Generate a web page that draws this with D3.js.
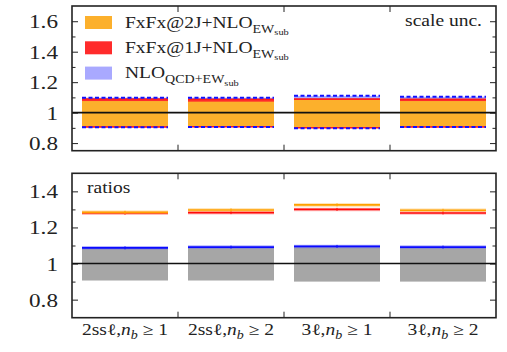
<!DOCTYPE html>
<html lang="en">
<head>
<meta charset="utf-8">
<title>Scale uncertainties</title>
<script src="https://d3js.org/d3.v7.min.js"></script>
<style>
  body { margin: 0; background: #fff; }
  svg text { font-family: "Liberation Serif", "Times New Roman", serif; fill: #222; }
</style>
</head>
<body>
<div id="chart"></div>
<script>
// categories (lepton selection, minimum number of b jets)
const lepton = ["2ss", "2ss", "3", "3"];
const nbMin = ["1", "2", "1", "2"];
const cats = lepton.map((l, i) => l + "_" + nbMin[i]);

// upper panel: scale uncertainty bands (normalised)
const nloLo = [0.904, 0.905, 0.898, 0.905];
const nloHi = [1.098, 1.098, 1.110, 1.104];
const fx1Lo = [0.906, 0.907, 0.900, 0.906];
const fx1Hi = [1.089, 1.088, 1.090, 1.087];
const fx2Lo = [0.910, 0.910, 0.902, 0.908];
const fx2Hi = [1.076, 1.072, 1.083, 1.076];

// lower panel: ratios
const ratio2J = [1.284, 1.297, 1.325, 1.295];
const ratio1J = [1.279, 1.282, 1.300, 1.280];
const ratioNlo = [1.087, 1.091, 1.095, 1.091];
const grayLo = [0.906, 0.906, 0.900, 0.900];

// tick labels
const topTicks = [0.8, 1, 1.2, 1.4, 1.6];
const topMinor = [0.9, 1.1, 1.3, 1.5];
const botTicks = [0.8, 1, 1.2, 1.4];
const botMinor = [0.9, 1.1, 1.3];

const W = 507, H = 352;
const x0 = 72, x1 = 496;
const SX = 1.22; // the original type is wider than Times

const svg = d3.select("#chart").append("svg")
  .attr("width", W).attr("height", H);

const x = d3.scaleBand().domain(cats).range([x0, x1]).padding(0);
const inset = 10;
const bx = c => x(c) + inset;
const bw = x.bandwidth() - 2 * inset;

const yTop = d3.scaleLinear().domain([0.75, 1.7]).range([150.7, 6]);
const yBot = d3.scaleLinear().domain([0.7, 1.5]).range([317.7, 173.3]);

function stext(g, px, py, anchor, size) {
  return g.append("text")
    .attr("transform", `translate(${px},${py}) scale(${SX},1)`)
    .attr("text-anchor", anchor)
    .style("font-size", size + "px");
}

function axes(y, majors, minors) {
  const g = svg.append("g");
  const left = g.append("g").attr("transform", `translate(${x0},0)`)
    .call(d3.axisLeft(y).tickValues(majors).tickSize(-6).tickPadding(11.5).tickFormat(d => String(d)));
  left.selectAll("text")
    .attr("transform", `scale(${SX},1)`)
    .attr("dy", "0.34em")
    .style("font-size", "19px")
    .attr("fill", "#222");
  g.append("g").attr("transform", `translate(${x0},0)`)
    .call(d3.axisLeft(y).tickValues(minors).tickSize(-3.5).tickFormat(""));
  g.append("g").attr("transform", `translate(${x1},0)`)
    .call(d3.axisRight(y).tickValues(majors).tickSize(-6).tickFormat(""));
  g.append("g").attr("transform", `translate(${x1},0)`)
    .call(d3.axisRight(y).tickValues(minors).tickSize(-3.5).tickFormat(""));
  g.selectAll(".domain").remove();
  g.selectAll(".tick line").attr("stroke", "#222");

  // category boundaries on top and bottom edges
  const [yb, yt] = y.range();
  const bounds = cats.slice(1);
  g.selectAll(".bt").data(bounds).join("line")
    .attr("x1", c => x(c)).attr("x2", c => x(c))
    .attr("y1", yt).attr("y2", yt + 6).attr("stroke", "#222");
  g.selectAll(".bb").data(bounds).join("line")
    .attr("x1", c => x(c)).attr("x2", c => x(c))
    .attr("y1", yb).attr("y2", yb - 6).attr("stroke", "#222");
  return g;
}

function frame(y) {
  const [yb, yt] = y.range();
  svg.append("line")
    .attr("x1", x0).attr("x2", x1).attr("y1", y(1)).attr("y2", y(1))
    .attr("stroke", "#111").attr("stroke-width", 1.6);
  svg.append("rect")
    .attr("x", x0).attr("y", yt).attr("width", x1 - x0).attr("height", yb - yt)
    .attr("fill", "none").attr("stroke", "#222").attr("stroke-width", 1.6);
}

// ---------- upper panel ----------
axes(yTop, topTicks, topMinor);

const bands = [
  { lo: nloLo, hi: nloHi, fill: "#a9a9ff" },
  { lo: fx1Lo, hi: fx1Hi, fill: "#ff2b2b" },
  { lo: fx2Lo, hi: fx2Hi, fill: "#fcb02c" }
];
bands.forEach(b => {
  svg.append("g").selectAll("rect").data(cats).join("rect")
    .attr("x", bx).attr("width", bw)
    .attr("y", (c, i) => yTop(b.hi[i]))
    .attr("height", (c, i) => yTop(b.lo[i]) - yTop(b.hi[i]))
    .attr("fill", b.fill);
});

function edges(g, vals, y, color, width, dash) {
  g.append("g").selectAll("line").data(cats).join("line")
    .attr("x1", bx).attr("x2", c => bx(c) + bw)
    .attr("y1", (c, i) => y(vals[i])).attr("y2", (c, i) => y(vals[i]))
    .attr("stroke", color).attr("stroke-width", width)
    .attr("stroke-dasharray", dash);
}
const topEdges = svg.append("g");
edges(topEdges, fx1Hi, yTop, "#ff1a1a", 1.5, null);
edges(topEdges, fx1Lo, yTop, "#ff1a1a", 1.5, null);
edges(topEdges, nloHi, yTop, "#1010ff", 2, "4,2.5");
edges(topEdges, nloLo, yTop, "#1010ff", 2, "4,2.5");

frame(yTop);

// legend
const legend = svg.append("g");
const legItems = [
  { fill: "#fcb02c", main: "FxFx@2J+NLO", sub: "EW" },
  { fill: "#ff2b2b", main: "FxFx@1J+NLO", sub: "EW" },
  { fill: "#a9a9ff", main: "NLO", sub: "QCD+EW" }
];
legItems.forEach((d, i) => {
  const yy = 16 + i * 25.3;
  legend.append("rect").attr("x", 85).attr("y", yy).attr("width", 27).attr("height", 13).attr("fill", d.fill);
  const t = stext(legend, 125, yy + 11.5, "start", 16).text(d.main);
  t.append("tspan").attr("dy", 5).style("font-size", "11.5px").text(d.sub);
  t.append("tspan").attr("dy", 2.5).style("font-size", "8.5px").text("sub");
});
stext(svg, 482, 26, "end", 16).text("scale unc.");

// ---------- lower panel ----------
axes(yBot, botTicks, botMinor);

svg.append("g").selectAll("rect").data(cats).join("rect")
  .attr("x", bx).attr("width", bw)
  .attr("y", (c, i) => yBot(ratioNlo[i]))
  .attr("height", (c, i) => yBot(grayLo[i]) - yBot(ratioNlo[i]))
  .attr("fill", "#a6a6a6");

function ratioLine(vals, color, halo) {
  const g = svg.append("g");
  edges(g, vals, yBot, halo, 3.5, null);
  edges(g, vals, yBot, color, 1.6, null);
  g.append("g").selectAll("line").data(cats).join("line")
    .attr("x1", c => x(c) + x.bandwidth() / 2).attr("x2", c => x(c) + x.bandwidth() / 2)
    .attr("y1", (c, i) => yBot(vals[i]) - 1.5).attr("y2", (c, i) => yBot(vals[i]) + 1.5)
    .attr("stroke", color).attr("stroke-width", 1);
}
ratioLine(ratioNlo, "#0a0aff", "rgba(90,90,255,0.45)");
ratioLine(ratio1J, "#ff0a0a", "rgba(255,90,90,0.4)");
ratioLine(ratio2J, "#ffa000", "rgba(255,190,80,0.5)");

frame(yBot);
stext(svg, 87, 192.5, "start", 16).text("ratios");

// category labels
const xl = svg.append("g");
cats.forEach((c, i) => {
  const t = stext(xl, x(c) + x.bandwidth() / 2, 335, "middle", 16);
  t.append("tspan").text(lepton[i] + "ℓ,");
  t.append("tspan").style("font-style", "italic").text("n");
  t.append("tspan").attr("dy", 3.5).style("font-style", "italic").style("font-size", "11.5px").text("b");
  t.append("tspan").attr("dy", -3.5).text(" ≥ " + nbMin[i]);
});
</script>
</body>
</html>
